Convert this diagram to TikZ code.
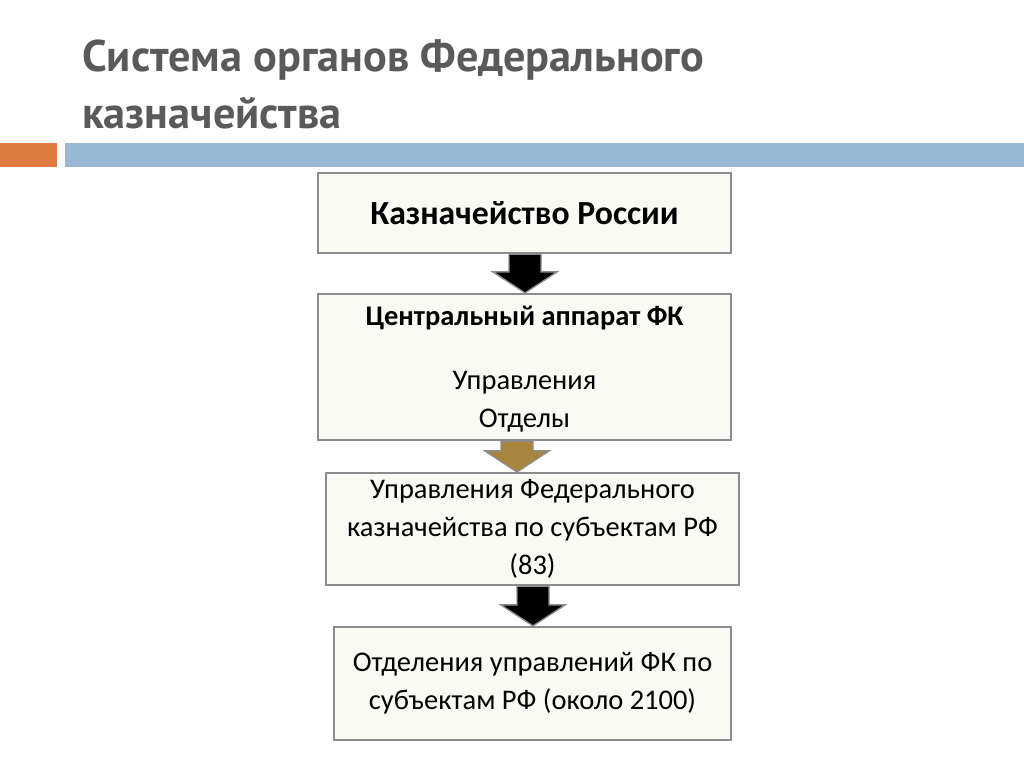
\documentclass[tikz,border=0pt]{standalone}
\usepackage{fontspec}
\setmainfont{Carlito}
\newfontfamily\titlefont{PT Sans}
\usetikzlibrary{positioning,calc}
\definecolor{titlegrey}{HTML}{5A5A5A}
\definecolor{barorange}{HTML}{DF7B3E}
\definecolor{barblue}{HTML}{97B7D2}
\definecolor{boxfill}{HTML}{FAFAF5}
\definecolor{boxline}{HTML}{8C8C8C}
\definecolor{arrowbrown}{HTML}{A8843C}
\tikzset{
  orgbox/.style={draw=boxline, line width=1.2pt, fill=boxfill, align=center, font=\fontsize{16.2}{21.5}\selectfont, inner sep=0pt},
  blockarrow/.style={draw=boxline, line width=0.8pt, fill=black}
}
\newcommand{\blockdown}[4]{% from, to, x, fill
  \path (#1.south) coordinate (ta) (#2.north) coordinate (tb);
  \filldraw[blockarrow, fill=#4] (#3-16,0 |- ta) -- (#3+16,0 |- ta) -- ($(#3+16,0 |- tb)+(0,-21)$) -- ($(#3+32,0 |- tb)+(0,-21)$) -- (#3,0 |- tb) -- ($(#3-32,0 |- tb)+(0,-21)$) -- ($(#3-16,0 |- tb)+(0,-21)$) -- cycle;}
\begin{document}
\begin{tikzpicture}[x=0.02cm,y=-0.02cm]
\useasboundingbox (0,0) rectangle (1024,767);
\node[anchor=west, font=\titlefont\bfseries\fontsize{25.2}{32.5}\selectfont, text=titlegrey, align=left] (title) at (76,84) {Система органов Федерального\\казначейства};
\fill[barorange] (0,143) rectangle (57,167);
\fill[barblue] (65,143) rectangle (1024,167);
\node[orgbox, minimum width=413*0.02cm, minimum height=80*0.02cm] (kaz) at (524.5,213) {\bfseries\fontsize{19.2}{23}\selectfont Казначейство России};
\node[orgbox, minimum width=413*0.02cm, minimum height=146*0.02cm] (central) at (524.5,367) {};
\node[font=\bfseries\fontsize{16.2}{21.5}\selectfont] (centraltitle) at (524.5,318) {Центральный аппарат ФК};
\node[font=\fontsize{16.2}{21.5}\selectfont, align=center] (centralsub) at (524.5,402) {Управления\\Отделы};
\node[orgbox, minimum width=413*0.02cm, minimum height=112*0.02cm] (upr) at (532.5,529) {Управления Федерального\\казначейства по субъектам РФ\\(83)};
\node[orgbox, minimum width=397*0.02cm, minimum height=113*0.02cm] (otd) at (532.5,683.5) {Отделения управлений ФК по\\субъектам РФ (около 2100)};
\blockdown{kaz}{central}{525}{black}
\blockdown{central}{upr}{517}{arrowbrown}
\blockdown{upr}{otd}{533}{black}
\end{tikzpicture}
\end{document}
